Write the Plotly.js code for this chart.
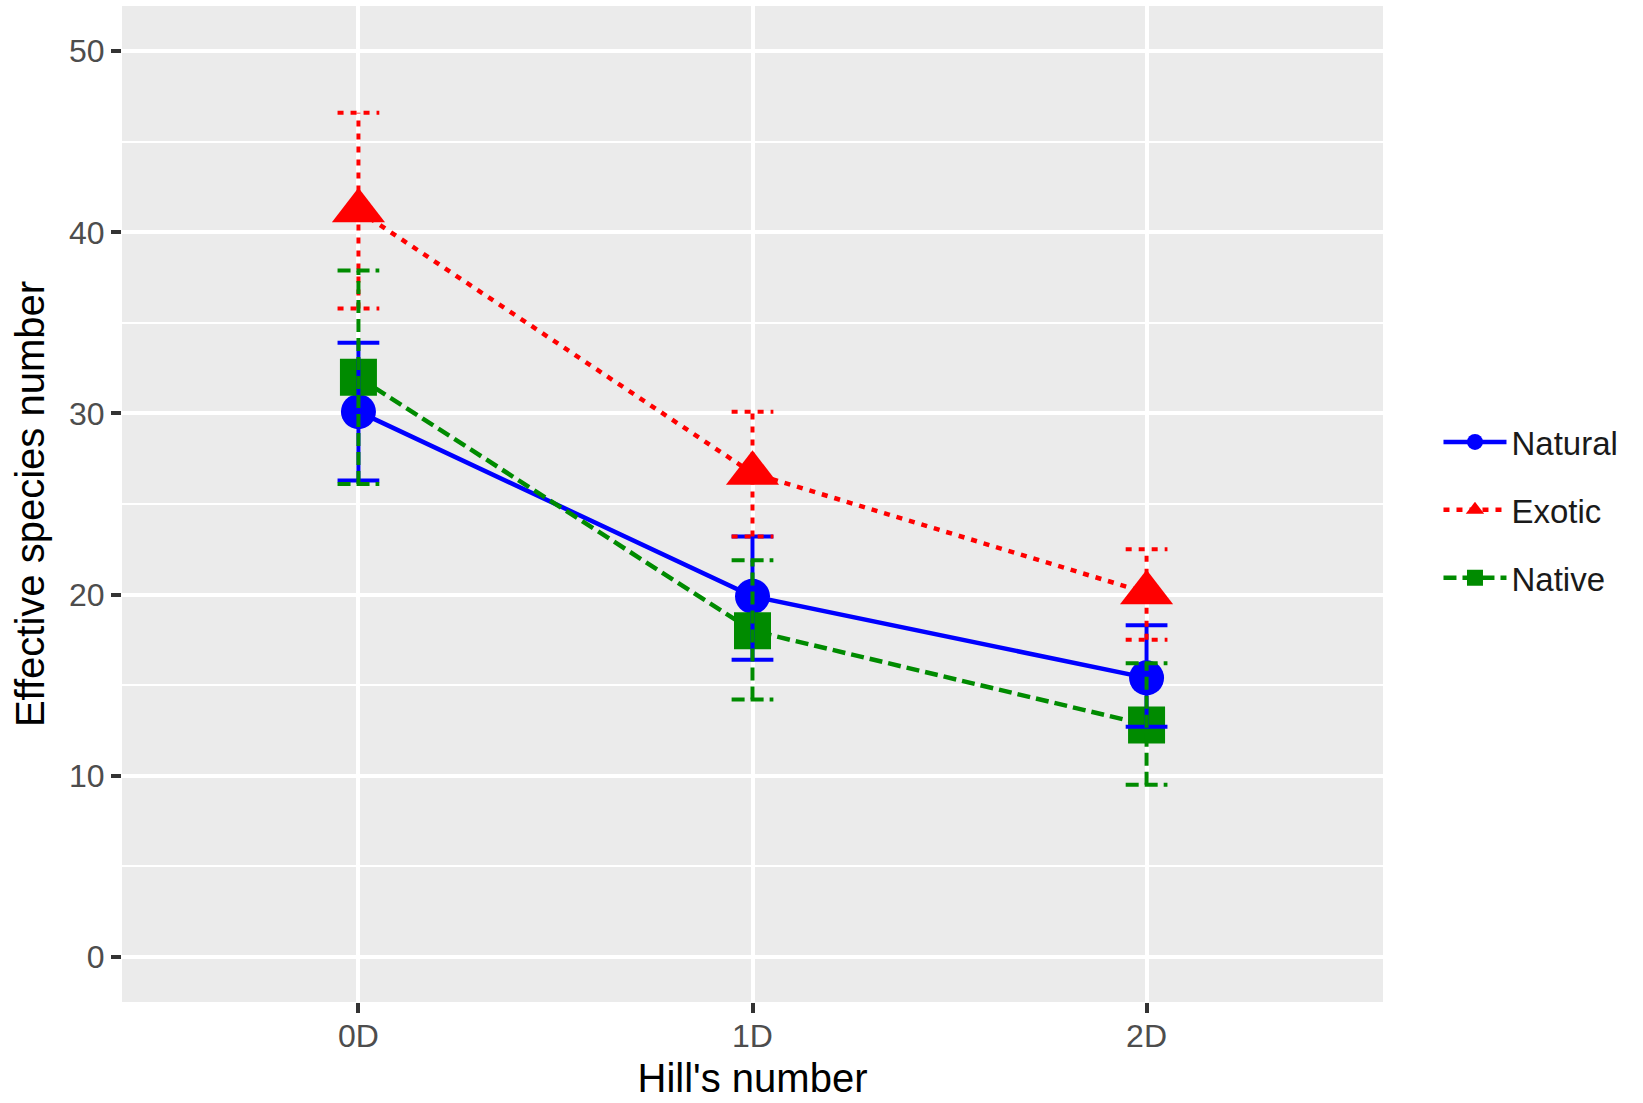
<!DOCTYPE html>
<html>
<head>
<meta charset="utf-8">
<script src="https://cdn.plot.ly/plotly-3.0.1.min.js"></script>
<style>html,body{margin:0;padding:0;background:#fff;}#chart{width:1643px;height:1103px;}</style>
</head>
<body>
<div id="chart"></div>
<script>
// ---- data ----
var categories = ["0D", "1D", "2D"];
var seriesNames = ["Natural", "Exotic", "Native"];
var naturalMean = [30.1, 19.9, 15.4];
var naturalHigh = [33.9, 23.2, 18.3];
var naturalLow  = [26.3, 16.4, 12.7];
var exoticMean  = [41.2, 26.7, 20.1];
var exoticHigh  = [46.6, 30.1, 22.5];
var exoticLow   = [35.8, 23.2, 17.5];
var nativeMean  = [32.0, 18.0, 12.8];
var nativeHigh  = [37.9, 21.9, 16.2];
var nativeLow   = [26.1, 14.2, 9.5];
var yTicks = [0, 10, 20, 30, 40, 50];

// ---- styles ----
var styles = [
  {color: "#0000FF", symbol: "circle", size: 35, dash: "solid"},
  {color: "#FF0000", symbol: "triangle-up", size: 46, dash: "6px,7px"},
  {color: "#008B00", symbol: "square", size: 37, dash: "13px,6px"}
];
var means = [naturalMean, exoticMean, nativeMean];
var highs = [naturalHigh, exoticHigh, nativeHigh];
var lows  = [naturalLow, exoticLow, nativeLow];
var xIdx = categories.map(function(c, i){ return i; });
var capHalf = 0.053;

var traces = [];
seriesNames.forEach(function(name, s){
  traces.push({
    type: "scatter", mode: "lines+markers", name: name,
    x: xIdx, y: means[s],
    legendgroup: name,
    line: {color: styles[s].color, width: 4.5, dash: styles[s].dash},
    marker: {color: styles[s].color, symbol: styles[s].symbol, size: styles[s].size, line: {width: 0}},
    hoverinfo: "skip"
  });
});
// error bars drawn on top as line segments through the axes
seriesNames.forEach(function(name, s){
  var ex = [], ey = [];
  xIdx.forEach(function(xi, i){
    ex.push(xi, xi, null, xi - capHalf, xi + capHalf, null, xi - capHalf, xi + capHalf, null);
    ey.push(lows[s][i], highs[s][i], null, highs[s][i], highs[s][i], null, lows[s][i], lows[s][i], null);
  });
  traces.push({
    type: "scatter", mode: "lines", x: ex, y: ey, showlegend: false,
    legendgroup: name,
    line: {color: styles[s].color, width: 4, dash: styles[s].dash},
    hoverinfo: "skip"
  });
});

var layout = {
  width: 1643, height: 1103,
  paper_bgcolor: "#FFFFFF",
  plot_bgcolor: "#EBEBEB",
  margin: {l: 122, r: 260, t: 6, b: 101},
  font: {family: "Liberation Sans, Arial, sans-serif", color: "#000"},
  showlegend: true,
  legend: {
    x: 1.044, xanchor: "left", y: 0.494, yanchor: "middle",
    font: {size: 33, color: "#1A1A1A"},
    bgcolor: "rgba(0,0,0,0)",
    traceorder: "grouped", tracegroupgap: 22,
    itemwidth: 63
  },
  xaxis: {
    range: [-0.6, 2.6],
    tickvals: xIdx, ticktext: categories,
    showgrid: true, gridcolor: "#FFFFFF", gridwidth: 4,
    zeroline: false, showline: false,
    ticks: "outside", ticklen: 10, tickwidth: 4, tickcolor: "#333333",
    ticklabelstandoff: -4,
    tickfont: {size: 32, color: "#4D4D4D"},
    title: {text: "Hill's number", font: {size: 40, color: "#000"}, standoff: 10},
    automargin: false
  },
  yaxis: {
    range: [-2.5, 52.5],
    tickvals: yTicks,
    showgrid: true, gridcolor: "#FFFFFF", gridwidth: 4,
    minor: {dtick: 5, tick0: 5, showgrid: true, gridcolor: "#FFFFFF", gridwidth: 2, ticks: ""},
    zeroline: false, showline: false,
    ticks: "outside", ticklen: 10, tickwidth: 4, tickcolor: "#333333",
    tickfont: {size: 32, color: "#4D4D4D"},
    title: {text: "Effective species number", font: {size: 40, color: "#000"}, standoff: 12},
    automargin: false
  }
};

Plotly.newPlot("chart", traces, layout, {staticPlot: true, displayModeBar: false});
</script>
</body>
</html>
